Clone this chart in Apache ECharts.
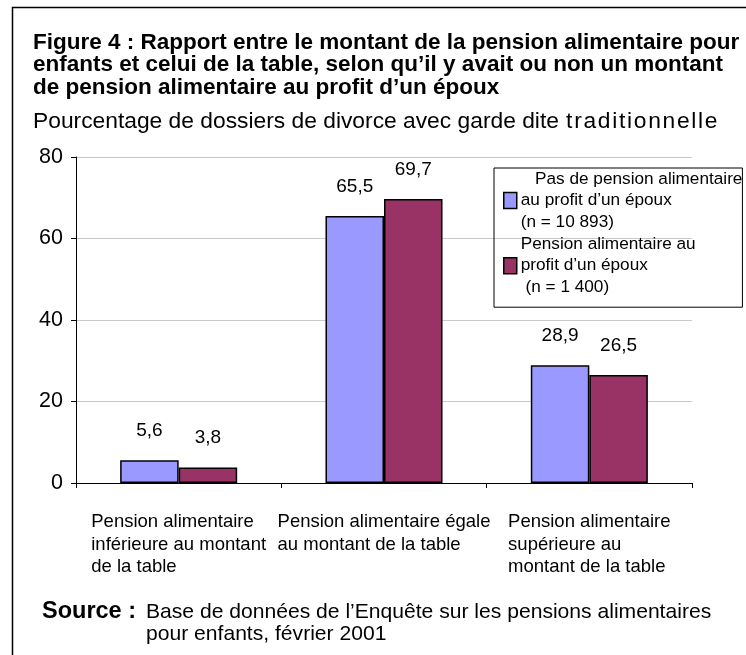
<!DOCTYPE html>
<html><head><meta charset="utf-8">
<script src="https://cdn.jsdelivr.net/npm/echarts@6/dist/echarts.min.js"></script>
<style>html,body{margin:0;padding:0;background:#fff}#c{width:746px;height:655px}</style>
</head><body><div id="c"></div>
<script>
const categories = ['Pension alimentaire\ninférieure au montant\nde la table', 'Pension alimentaire égale\nau montant de la table', 'Pension alimentaire\nsupérieure au\nmontant de la table'];
const seriesNames = ['Pas de pension alimentaire au profit d’un époux (n = 10 893)', 'Pension alimentaire au profit d’un époux (n = 1 400)'];
const legendLines = ['   Pas de pension alimentaire\nau profit d’un époux\n(n = 10 893)', 'Pension alimentaire au\nprofit d’un époux\n (n = 1 400)'];
const sansPension = [5.6, 65.5, 28.9];
const avecPension = [3.8, 69.7, 26.5];
const yTicks = [0, 20, 40, 60, 80];

const FF = '"Liberation Sans", Arial, sans-serif';
const subMain = 'Pourcentage de dossiers de divorce avec garde dite ';
const subEnd = 'traditionnelle';
const chart = echarts.init(document.getElementById('c'), null, {renderer: 'canvas'});
const lbl = {show: true, position: 'top', distance: 20, color: '#000', fontSize: 19, fontFamily: FF,
  formatter: p => String(p.value).replace('.', ',')};
chart.setOption({
  animation: false,
  graphic: [{type: 'rect', shape: {x: 12.5, y: 7.5, width: 745, height: 660}, style: {fill: 'none', stroke: '#000', lineWidth: 1.5}}],
  title: [
    {text: 'Figure 4 : Rapport entre le montant de la pension alimentaire pour\nenfants et celui de la table, selon qu’il y avait ou non un montant\nde pension alimentaire au profit d’un époux',
     left: 33, top: 31.5, padding: 0, textStyle: {fontFamily: FF, fontWeight: 'bold', fontSize: 22.5, lineHeight: 22.5, color: '#000'}},
    {text: '{n|' + subMain + '}' + Array.from(subEnd).map(c => '{t|' + c + '}').join(''),
     left: 33, top: 110, padding: 0,
     textStyle: {fontFamily: FF, fontWeight: 'normal', fontSize: 22.8, lineHeight: 24, color: '#000',
       rich: {n: {fontFamily: FF, fontSize: 22.8, lineHeight: 24, color: '#000'},
              t: {fontFamily: FF, fontSize: 22.8, lineHeight: 24, color: '#000', padding: [0, 0.85]}}}},
    {text: 'Source :', left: 42, top: 601, padding: 0, textStyle: {fontFamily: FF, fontWeight: 'bold', fontSize: 23.5, lineHeight: 22, color: '#000'}},
    {text: 'Base de données de l’Enquête sur les pensions alimentaires\npour enfants, février 2001', left: 146, top: 601, padding: 0,
     textStyle: {fontFamily: FF, fontWeight: 'normal', fontSize: 21.1, lineHeight: 22, color: '#000'}}
  ],
  legend: {
    orient: 'vertical', left: 494, top: 168, padding: [0, 0, 9, 9], itemGap: 0,
    borderColor: '#000', borderWidth: 1, icon: 'rect', itemWidth: 13, itemHeight: 16,
    data: seriesNames,
    formatter: name => legendLines[seriesNames.indexOf(name)],
    textStyle: {fontFamily: FF, fontSize: 17.2, lineHeight: 21.7, color: '#000', padding: [0,0,0,-1]},
    itemStyle: {borderColor: '#000', borderWidth: 1.5}
  },
  grid: {left: 76, right: 54, top: 157, bottom: 172, containLabel: false},
  xAxis: {
    type: 'category', data: categories,
    axisLine: {lineStyle: {color: '#000', width: 1}},
    axisTick: {show: true, length: 5, lineStyle: {color: '#000'}},
    axisLabel: {interval: 0, margin: 28, color: '#000', fontFamily: FF, fontSize: 18.5, lineHeight: 22.5,
      formatter: v => v.split('\n').map(l => '{a|' + l + '}').join('\n'),
      rich: {a: {align: 'left', fontFamily: FF, fontSize: 18.5, lineHeight: 22.5, color: '#000'}}}
  },
  yAxis: {
    type: 'value', min: yTicks[0], max: yTicks[yTicks.length - 1], interval: 20,
    axisLine: {show: true, lineStyle: {color: '#000', width: 1}},
    axisTick: {show: true, length: 5, lineStyle: {color: '#000'}},
    axisLabel: {margin: 13, color: '#000', fontFamily: FF, fontSize: 21.5},
    splitLine: {lineStyle: {color: '#c8c8c8', width: 1}}
  },
  series: [
    {name: seriesNames[0], type: 'bar', data: sansPension, barGap: '0%', barCategoryGap: '43%',
     itemStyle: {color: '#9999FF', borderColor: '#000', borderWidth: 1.5}, label: lbl},
    {name: seriesNames[1], type: 'bar', data: avecPension,
     itemStyle: {color: '#993366', borderColor: '#000', borderWidth: 1.5}, label: lbl}
  ]
});
</script></body></html>
